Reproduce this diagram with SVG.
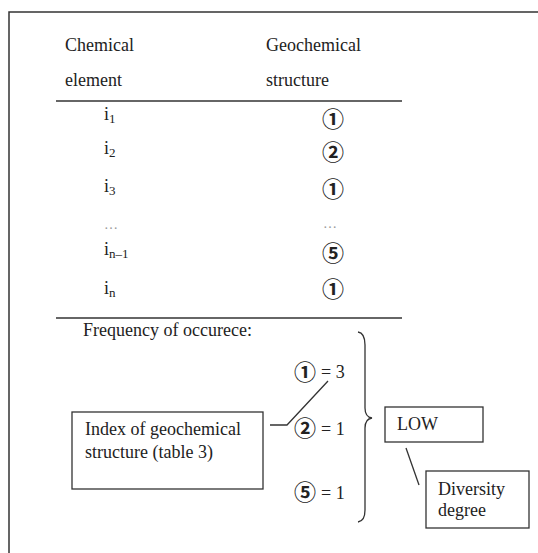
<svg xmlns="http://www.w3.org/2000/svg" width="538" height="553" viewBox="0 0 538 553">
<style>
.t{font-family:"Liberation Serif","Times New Roman",serif;font-size:18px;fill:#222}
.c{font-family:"Noto Sans CJK JP","DejaVu Sans",sans-serif;font-size:22px;font-weight:bold;fill:#222;text-anchor:middle}
.sub{font-size:13px}
.dots{font-family:"Liberation Serif",serif;font-size:14px;fill:#999}
.ln{stroke:#333;stroke-width:1.3;fill:none}
.box{stroke:#333;stroke-width:1.3;fill:#fff}
</style>
<rect x="9" y="12" width="540" height="550" fill="#fff" stroke="#333" stroke-width="1.5"/>
<g id="header">
<text class="t" x="65" y="51">Chemical</text>
<text class="t" x="65" y="86">element</text>
<text class="t" x="266" y="51">Geochemical</text>
<text class="t" x="266" y="86">structure</text>
</g>
<g id="rules">
<line class="ln" x1="56" y1="101" x2="402" y2="101"/>
<line class="ln" x1="56" y1="318" x2="402" y2="318"/>
</g>
<g id="rows">
<text class="t" x="104" y="120">i<tspan class="sub" dy="3">1</tspan></text>
<text class="t" x="104" y="154">i<tspan class="sub" dy="3">2</tspan></text>
<text class="t" x="104" y="192">i<tspan class="sub" dy="3">3</tspan></text>
<text class="dots" x="104" y="229">…</text>
<text class="t" x="104" y="255">i<tspan class="sub" dy="3">n–1</tspan></text>
<text class="t" x="104" y="294">i<tspan class="sub" dy="3">n</tspan></text>
<text class="c" x="333" y="127">①</text>
<text class="c" x="333" y="160">②</text>
<text class="c" x="333" y="197">①</text>
<text class="dots" x="323" y="228">…</text>
<text class="c" x="333" y="261">⑤</text>
<text class="c" x="333" y="297">①</text>
</g>
<g id="frequency">
<text class="t" x="83" y="336">Frequency of occurece:</text>
<text class="c" x="305" y="380">①</text>
<text class="t" x="321" y="378">= 3</text>
<text class="c" x="305" y="436">②</text>
<text class="t" x="321" y="435">= 1</text>
<text class="c" x="305" y="500">⑤</text>
<text class="t" x="321" y="499">= 1</text>
</g>
<g id="index-node">
<rect class="box" x="72" y="412" width="191" height="77"/>
<text class="t" x="85" y="435">Index of geochemical</text>
<text class="t" x="85" y="458">structure (table 3)</text>
</g>
<g id="low-node">
<rect class="box" x="385" y="407" width="98" height="35"/>
<text class="t" x="397" y="430">LOW</text>
</g>
<g id="diversity-node">
<rect class="box" x="426" y="471" width="103" height="57"/>
<text class="t" x="438" y="495">Diversity</text>
<text class="t" x="438" y="516">degree</text>
</g>
<g id="connectors">
<polyline class="ln" points="270,425 287,425 328,381"/>
<path class="ln" d="M358,332 Q365,333 365,345 L365,408 Q365,417 372,418 Q365,419 365,428 L365,510 Q365,521 358,522"/>
<line class="ln" x1="406" y1="448" x2="419" y2="485"/>
</g>
</svg>
